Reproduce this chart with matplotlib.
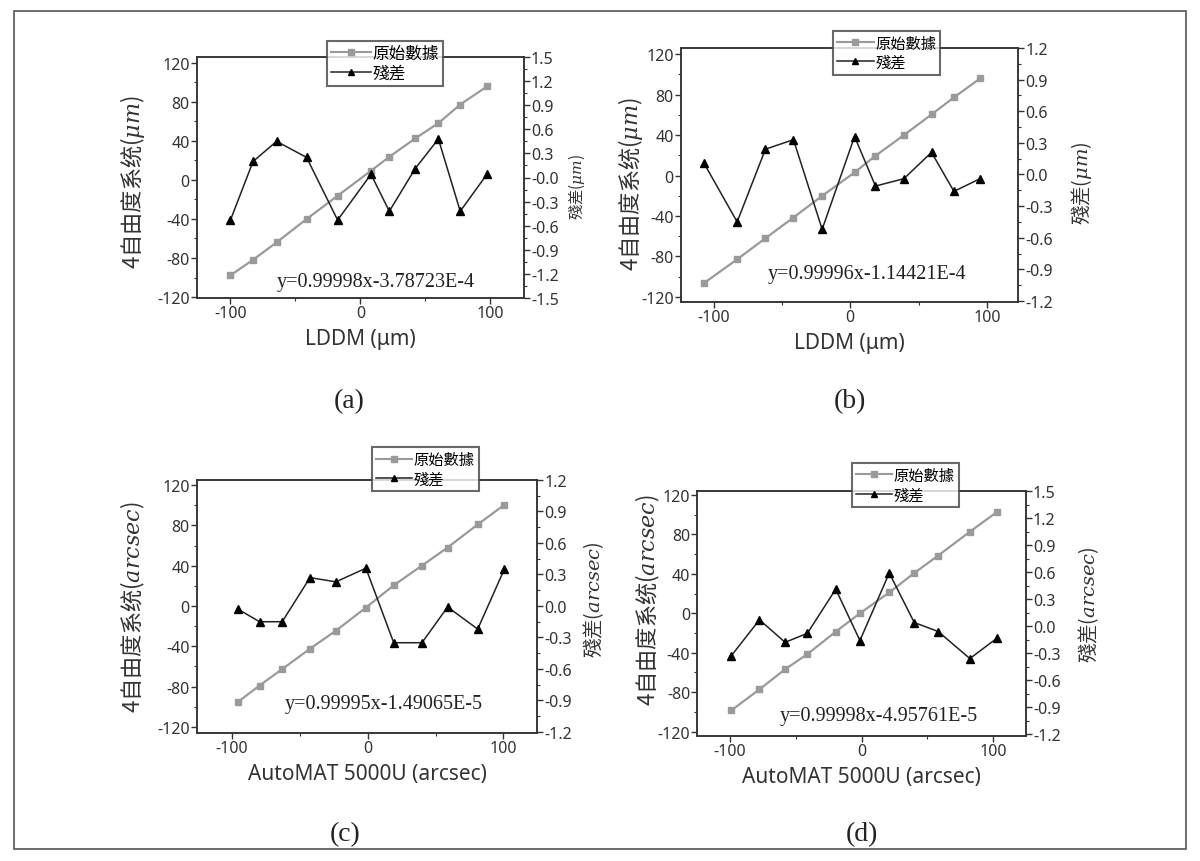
import matplotlib.pyplot as plt
from matplotlib.lines import Line2D
from matplotlib.patches import Rectangle
from matplotlib.ticker import FormatStrFormatter, MultipleLocator

# (a) LDDM, micrometre
a_x = [-100, -82.6, -64.5, -41.4, -17.5, 8.2, 22.3, 42.2, 60.1, 76.9, 97.5]
a_raw = [-97.8, -81.8, -64.0, -40.1, -16.2, 9.4, 23.7, 42.5, 58.2, 77.3, 95.8]
a_res = [-0.53, 0.20, 0.45, 0.25, -0.53, 0.04, -0.42, 0.11, 0.48, -0.42, 0.04]

# (b) LDDM, micrometre
b_x = [-107.1, -82.7, -62.0, -41.5, -20.5, 3.2, 18.5, 39.3, 59.5, 75.9, 95.1]
b_raw = [-106.5, -82.8, -62.0, -41.5, -20.1, 3.0, 19.5, 39.9, 60.3, 77.2, 95.9]
b_res = [0.11, -0.45, 0.24, 0.33, -0.52, 0.36, -0.11, -0.04, 0.21, -0.16, -0.04]

# (c) AutoMAT 5000U, arcsec
c_x = [-95.6, -79.7, -63.0, -42.5, -23.4, -1.3, 19.2, 40.0, 58.9, 81.1, 100.7]
c_raw = [-95.2, -78.9, -62.6, -42.4, -24.5, -1.6, 20.5, 40.1, 58.0, 80.9, 100.4]
c_res = [-0.03, -0.15, -0.15, 0.27, 0.23, 0.36, -0.35, -0.35, -0.01, -0.22, 0.35]

# (d) AutoMAT 5000U, arcsec
d_x = [-99.2, -77.7, -58.2, -41.3, -19.7, -1.3, 21.0, 40.0, 58.2, 82.3, 103.3]
d_raw = [-98.6, -77.2, -56.8, -41.5, -18.7, 0.0, 21.1, 40.8, 58.5, 82.7, 103.1]
d_res = [-0.33, 0.07, -0.18, -0.08, 0.41, -0.16, 0.59, 0.04, -0.06, -0.36, -0.13]

legend_labels = ["原始數據", "殘差"]
fit_texts = [
    "y=0.99998x-3.78723E-4",
    "y=0.99996x-1.14421E-4",
    "y=0.99995x-1.49065E-5",
    "y=0.99998x-4.95761E-5",
]
x_labels = ["LDDM (μm)", "LDDM (μm)", "AutoMAT 5000U (arcsec)", "AutoMAT 5000U (arcsec)"]
left_labels = [
    r"4自由度系统$(\mu m)$",
    r"4自由度系统$(\mu m)$",
    r"4自由度系统$(arcsec)$",
    r"4自由度系统$(arcsec)$",
]
right_labels = [r"殘差$(\mu m)$", r"殘差$(\mu m)$", r"殘差$(arcsec)$", r"殘差$(arcsec)$"]
panel_tags = ["(a)", "(b)", "(c)", "(d)"]

W, H = 1200, 862
GRAY = "#9a9a9a"

PANELS = [
    {"box": (196.7, 58, 524, 299), "xlim": (-126, 126), "ylim": (-121, 126),
     "y2lim": (-1.5, 1.5),
     "legend": (326.7, 41.7), "legend_fs": 12, "fit": (376, 283), "tag": (349, 402),
     "ylab": (-0.195, 0.485, 16), "y2lab": (1.16, 0.466, 11)},
    {"box": (680.7, 49, 1018.3, 303), "xlim": (-124, 123), "ylim": (-125, 126),
     "y2lim": (-1.21, 1.2),
     "legend": (833.3, 31.7), "legend_fs": 11, "fit": (867, 275), "tag": (850, 402),
     "ylab": (-0.15, 0.47, 16), "y2lab": (1.188, 0.47, 14)},
    {"box": (196.7, 481, 537.3, 734), "xlim": (-126, 125), "ylim": (-126, 125),
     "y2lim": (-1.21, 1.2),
     "legend": (371.7, 448.3), "legend_fs": 11, "fit": (384, 705), "tag": (345, 835),
     "ylab": (-0.187, 0.5, 16), "y2lab": (1.165, 0.53, 14)},
    {"box": (697.3, 492, 1026, 737), "xlim": (-125, 125), "ylim": (-124.5, 124),
     "y2lim": (-1.22, 1.5),
     "legend": (851.7, 464), "legend_fs": 11, "fit": (879, 717), "tag": (862, 835),
     "ylab": (-0.149, 0.56, 16), "y2lab": (1.19, 0.54, 14)},
]

CJK = ["Noto Sans CJK TC", "DejaVu Sans"]


def fig_xy(px, py):
    return px / W, 1 - py / H


def style_axis(ax):
    for spine in ax.spines.values():
        spine.set_color("#333333")
        spine.set_linewidth(1.1)


def draw_panel(fig, spec, x, raw, res, idx):
    x0, y0, x1, y1 = spec["box"]
    rect = [x0 / W, 1 - y1 / H, (x1 - x0) / W, (y1 - y0) / H]
    ax = fig.add_axes(rect)
    ax2 = ax.twinx()

    ax.plot(x, raw, color=GRAY, lw=1.6, marker="s", ms=5, mfc=GRAY, mec=GRAY)
    ax2.plot(x, res, color="#222222", lw=1.1, marker="^", ms=6, mfc="black", mec="black")

    ax.set_xlim(*spec["xlim"])
    ax.set_ylim(*spec["ylim"])
    ax2.set_ylim(*spec["y2lim"])

    ax.xaxis.set_major_locator(MultipleLocator(100))
    ax.xaxis.set_minor_locator(MultipleLocator(50))
    ax.yaxis.set_major_locator(MultipleLocator(40))
    ax.yaxis.set_minor_locator(MultipleLocator(20))
    ax2.yaxis.set_major_locator(MultipleLocator(0.3))
    ax2.yaxis.set_minor_locator(MultipleLocator(0.15))
    ax2.yaxis.set_major_formatter(FormatStrFormatter("%.1f"))

    ax.tick_params(axis="both", which="major", direction="out", length=4, width=1,
                   color="#333333", labelsize=11.5, pad=1, top=False, right=False)
    ax.tick_params(axis="both", which="minor", direction="out", length=2.5, width=0.8,
                   color="#333333", top=False, right=False)
    ax2.tick_params(axis="y", which="major", direction="out", length=4, width=1,
                    color="#333333", labelsize=11.5, pad=1)
    ax2.tick_params(axis="y", which="minor", direction="out", length=2.5, width=0.8,
                    color="#333333")
    for lab in ax.get_xticklabels() + ax.get_yticklabels() + ax2.get_yticklabels():
        lab.set_family("Noto Sans")
        lab.set_color("#333333")

    style_axis(ax)
    style_axis(ax2)

    ax.set_xlabel(x_labels[idx], fontsize=15, family="Noto Sans", color="#333333")
    ax.xaxis.set_label_coords(0.5, -(41 / (y1 - y0)))
    ax.xaxis.label.set_va("center")

    lx, ly, lfs = spec["ylab"]
    ax.set_ylabel(left_labels[idx], fontsize=lfs, family=CJK, color="#333333")
    ax.yaxis.set_label_coords(lx, ly)
    ax.yaxis.label.set_va("center")

    rx, ry, rfs = spec["y2lab"]
    ax2.set_ylabel(right_labels[idx], fontsize=rfs, family=CJK, color="#333333")
    ax2.yaxis.set_label_coords(rx, ry)
    ax2.yaxis.label.set_va("center")

    fx, fy = fig_xy(*spec["fit"])
    fig.text(fx, fy, fit_texts[idx], family="Liberation Serif", fontsize=14.5,
             ha="center", va="center", color="#222222")

    tx, ty = fig_xy(*spec["tag"])
    fig.text(tx, ty, panel_tags[idx], family="Liberation Serif", fontsize=20,
             ha="center", va="center", color="#222222")

    handles = [
        Line2D([], [], color=GRAY, lw=1.5, marker="s", ms=4, mfc=GRAY, mec=GRAY),
        Line2D([], [], color="#222222", lw=1.1, marker="^", ms=5, mfc="black", mec="black"),
    ]
    leg = fig.legend(handles, legend_labels, loc="upper left",
                     bbox_to_anchor=fig_xy(*spec["legend"]), borderaxespad=0,
                     prop={"family": CJK, "size": spec["legend_fs"]},
                     frameon=True, fancybox=False, handlelength=2.4,
                     handletextpad=0.1, labelspacing=0.15, borderpad=0.25)
    leg.get_frame().set_edgecolor("#444444")
    leg.get_frame().set_linewidth(1.5)
    leg.get_frame().set_facecolor("white")
    leg.set_zorder(10)


def main():
    plt.rcParams["axes.unicode_minus"] = False
    plt.rcParams["mathtext.fontset"] = "custom"
    plt.rcParams["mathtext.rm"] = "Noto Sans CJK TC"
    plt.rcParams["mathtext.it"] = "DejaVu Serif:italic"

    fig = plt.figure(figsize=(W / 100, H / 100), dpi=100)
    fig.add_artist(Rectangle((0.012, 0.014), 0.976, 0.972, transform=fig.transFigure,
                             fill=False, ec="#555555", lw=1.2))

    series = [(a_x, a_raw, a_res), (b_x, b_raw, b_res), (c_x, c_raw, c_res), (d_x, d_raw, d_res)]
    for idx, (spec, (x, raw, res)) in enumerate(zip(PANELS, series)):
        draw_panel(fig, spec, x, raw, res, idx)

    fig.savefig("out.png", dpi=100)
    plt.close(fig)


if __name__ == "__main__":
    main()
